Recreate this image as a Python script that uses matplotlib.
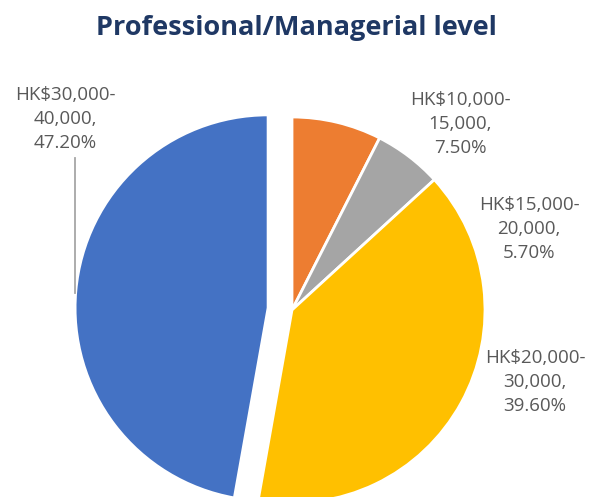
import matplotlib.pyplot as plt

# data
bands = ["HK$10,000-\n15,000", "HK$15,000-\n20,000", "HK$20,000-\n30,000", "HK$30,000-\n40,000"]
shares = [7.5, 5.7, 39.6, 47.2]
colors = ["#ED7D31", "#A5A5A5", "#FFC000", "#4472C4"]

# label centres in pixel coords (x, y from top)
label_pos = [(460, 124), (529, 229), (535, 382), (65, 119)]

W, H = 592, 497
fig = plt.figure(figsize=(W / 100, H / 100), dpi=100)
ax = fig.add_axes([0, 0, 1, 1])

cx, cy, r = 292, H - 310, 193
explode = [0, 0, 0, 24]  # offset in data units (pixels here)
ax.pie(
    shares,
    colors=colors,
    explode=explode,
    startangle=90,
    counterclock=False,
    center=(cx, cy),
    radius=r,
    wedgeprops=dict(edgecolor="white", linewidth=2),
    frame=True,
)
ax.set_xlim(0, W)
ax.set_ylim(0, H)
ax.set_aspect("equal")
ax.axis("off")

for band, s, (lx, ly) in zip(bands, shares, label_pos):
    ax.text(
        lx, H - ly, f"{band},\n{s:.2f}%",
        ha="center", va="center", fontsize=13.5, color="#595959",
        family="Open Sans", linespacing=1.4,
    )

# leader line for the blue slice
ax.plot([75, 75], [H - 158, H - 293], color="#A6A6A6", linewidth=1.3)

fig.text(0.5, 1 - 28 / H, "Professional/Managerial level", ha="center", va="center",
         fontsize=19.5, fontweight="bold", color="#1F3864", family="Open Sans")

fig.savefig("out.png", dpi=100)
